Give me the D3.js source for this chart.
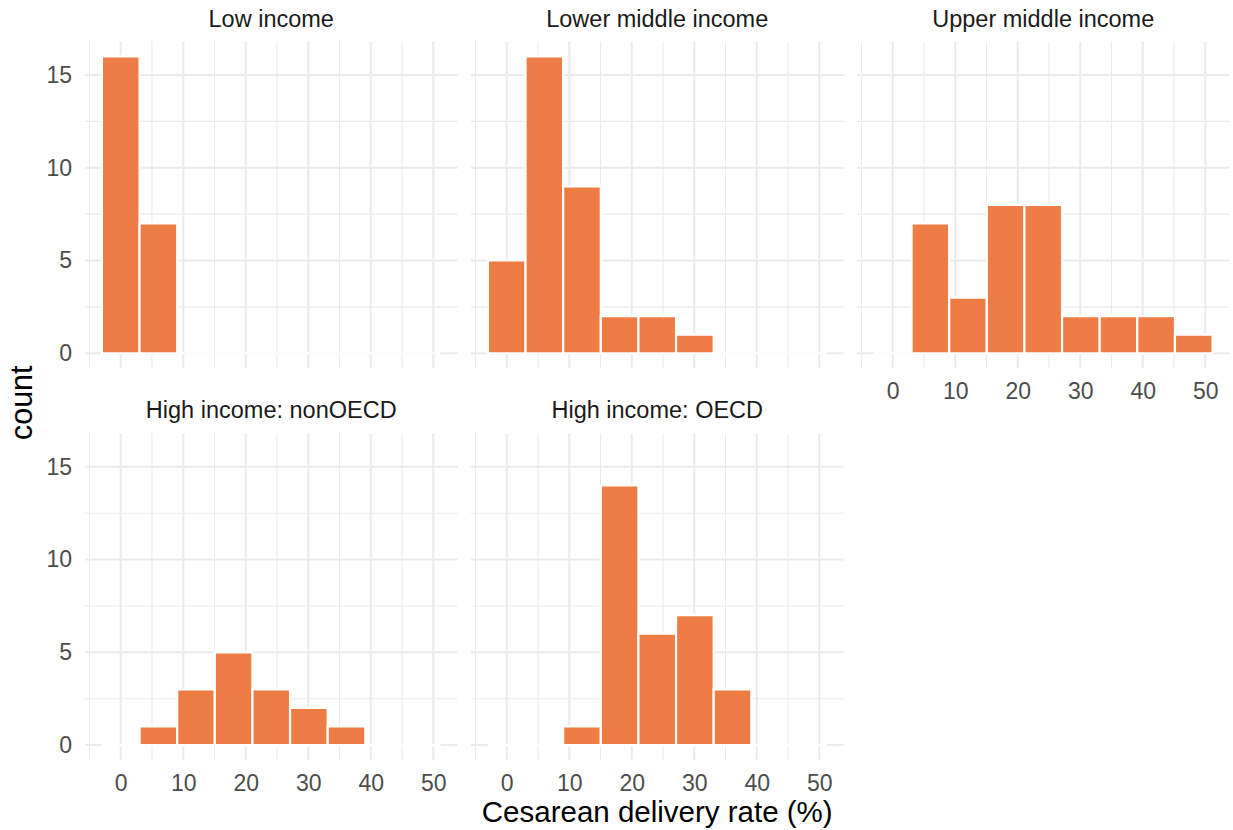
<!DOCTYPE html>
<html>
<head>
<meta charset="utf-8">
<script src="https://cdn.jsdelivr.net/npm/d3@7"></script>
<style>
  body { margin: 0; background: #ffffff; }
  svg { display: block; font-family: "Liberation Sans", Arial, Helvetica, sans-serif; }
</style>
</head>
<body>
<svg id="chart" width="1233" height="830"></svg>
<script>
// Histogram bins of cesarean delivery rate (%), shared by all panels
const binWidth = 6.02;
const binCenters = [0, 6.02, 12.04, 18.06, 24.08, 30.1, 36.12, 42.14, 48.16];

// Panel titles, in facet order
const facetNames = ["Low income", "Lower middle income", "Upper middle income",
                    "High income: nonOECD", "High income: OECD"];

// Country counts per bin for each income group
const lowIncome         = [16, 7, 0, 0, 0, 0, 0, 0, 0];
const lowerMiddleIncome = [5, 16, 9, 2, 2, 1, 0, 0, 0];
const upperMiddleIncome = [0, 7, 3, 8, 8, 2, 2, 2, 1];
const highIncomeNonOECD = [0, 1, 3, 5, 3, 2, 1, 0, 0];
const highIncomeOECD    = [0, 0, 1, 14, 6, 7, 3, 0, 0];

// Axis break labels
const rateTicks  = [0, 10, 20, 30, 40, 50];
const countTicks = [0, 5, 10, 15];

const xTitle = "Cesarean delivery rate (%)";
const yTitle = "count";

const facetCounts = [lowIncome, lowerMiddleIncome, upperMiddleIncome,
                     highIncomeNonOECD, highIncomeOECD];

// ---- layout ----
const svg = d3.select("#chart");
const nCol = 3;
const panelLeft = 85, panelTop = 41.6;
const panelW = 372.5, panelH = 326.5;
const gapX = 13.5, gapY = 65.3;
const fill = "#EE7C45";
const gridCol = "#EBEBEB";

// ---- scales (shared, with 5% padding like the default expansion) ----
const xLo = binCenters[0] - binWidth / 2;
const xHi = binCenters[binCenters.length - 1] + binWidth / 2;
const xPad = (xHi - xLo) * 0.05;
const x = d3.scaleLinear().domain([xLo - xPad, xHi + xPad]).range([0, panelW]);

const yMax = d3.max(facetCounts, c => d3.max(c));
const y = d3.scaleLinear().domain([-yMax * 0.05, yMax * 1.05]).range([panelH, 0]);

// minor breaks sit halfway between major breaks (and one step beyond each end)
function minorBreaks(major, scale) {
  const step = major[1] - major[0];
  const out = [];
  const [d0, d1] = scale.domain();
  for (let v = major[0] - step / 2; v <= major[major.length - 1] + step / 2; v += step) {
    if (v >= d0 && v <= d1) out.push(v);
  }
  return out;
}
const xMinor = minorBreaks(rateTicks, x);
const yMinor = minorBreaks(countTicks, y);

const nPanels = facetNames.length;
const nRow = Math.ceil(nPanels / nCol);

facetNames.forEach((name, i) => {
  const col = i % nCol, row = Math.floor(i / nCol);
  const px = panelLeft + col * (panelW + gapX);
  const py = panelTop + row * (panelH + gapY);
  const g = svg.append("g").attr("transform", `translate(${px},${py})`);

  // grid: minor first, then major
  g.selectAll(".xminor").data(xMinor).join("line")
    .attr("x1", d => x(d)).attr("x2", d => x(d)).attr("y1", 0).attr("y2", panelH)
    .attr("stroke", gridCol).attr("stroke-width", 1.05);
  g.selectAll(".yminor").data(yMinor).join("line")
    .attr("y1", d => y(d)).attr("y2", d => y(d)).attr("x1", 0).attr("x2", panelW)
    .attr("stroke", gridCol).attr("stroke-width", 1.05);
  g.selectAll(".xmajor").data(rateTicks).join("line")
    .attr("x1", d => x(d)).attr("x2", d => x(d)).attr("y1", 0).attr("y2", panelH)
    .attr("stroke", gridCol).attr("stroke-width", 2.1);
  g.selectAll(".ymajor").data(countTicks).join("line")
    .attr("y1", d => y(d)).attr("y2", d => y(d)).attr("x1", 0).attr("x2", panelW)
    .attr("stroke", gridCol).attr("stroke-width", 2.1);

  // histogram bars (paths so that empty bins still draw their white outline)
  const bins = binCenters.map((c, k) => ({ c, n: facetCounts[i][k] }));
  g.selectAll(".bar").data(bins).join("path")
    .attr("d", d => {
      const x0 = x(d.c - binWidth / 2), x1 = x(d.c + binWidth / 2);
      const y0 = y(0), y1 = y(d.n);
      return `M${x0},${y0}H${x1}V${y1}H${x0}Z`;
    })
    .attr("fill", fill)
    .attr("stroke", "#ffffff")
    .attr("stroke-width", 2.2);

  // strip label
  svg.append("text")
    .attr("x", px + panelW / 2).attr("y", py - 15)
    .attr("text-anchor", "middle")
    .attr("font-size", 23.5).attr("fill", "#1A1A1A")
    .text(name);

  // y axis on the first column
  if (col === 0) {
    const ax = g.append("g").call(d3.axisLeft(y).tickValues(countTicks).tickSize(0).tickPadding(13));
    ax.select(".domain").remove();
    ax.selectAll("text").attr("font-size", 23).attr("fill", "#4D4D4D")
      .attr("font-family", "Liberation Sans, Arial, sans-serif");
  }
  // x axis on the lowest panel of each column
  const below = i + nCol;
  if (below >= nPanels) {
    const ax = g.append("g").attr("transform", `translate(0,${panelH})`)
      .call(d3.axisBottom(x).tickValues(rateTicks).tickSize(0).tickPadding(15));
    ax.select(".domain").remove();
    ax.selectAll("text").attr("font-size", 23).attr("fill", "#4D4D4D")
      .attr("font-family", "Liberation Sans, Arial, sans-serif");
  }
});

// axis titles
const plotLeft = panelLeft, plotRight = panelLeft + nCol * panelW + (nCol - 1) * gapX;
const plotTop = panelTop, plotBottom = panelTop + nRow * panelH + (nRow - 1) * gapY;

svg.append("text")
  .attr("x", (plotLeft + plotRight) / 2).attr("y", 822)
  .attr("text-anchor", "middle").attr("font-size", 29.5).attr("fill", "#000")
  .text(xTitle);

svg.append("text")
  .attr("transform", `translate(32,${(plotTop + plotBottom) / 2 + 2}) rotate(-90)`)
  .attr("text-anchor", "middle").attr("font-size", 30.5).attr("fill", "#000")
  .text(yTitle);
</script>
</body>
</html>
